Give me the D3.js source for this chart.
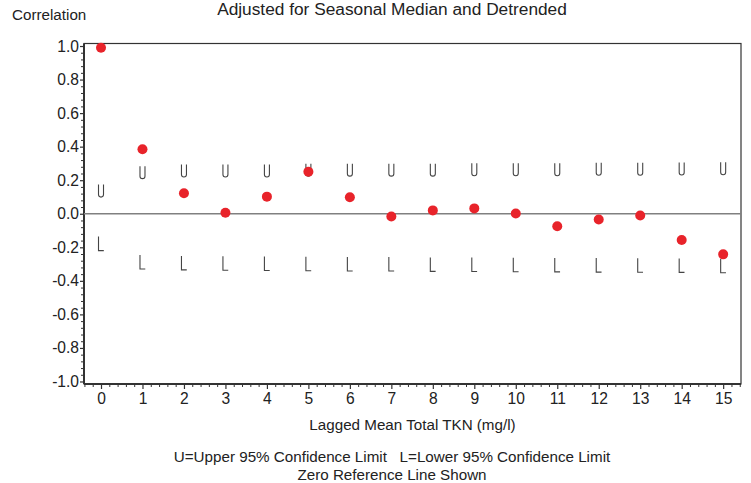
<!DOCTYPE html>
<html lang="en">
<head>
  <meta charset="UTF-8" />
  <title>Correlation by Lag</title>
  <script src="https://d3js.org/d3.v7.min.js"></script>
  <style>
    body { margin: 0; background: #fff; font-family: "Liberation Sans", Arial, sans-serif; }
    svg text { fill: #222; }
    .frame { fill: none; stroke: #333; stroke-width: 1.2px; }
    .zero { stroke: #808080; stroke-width: 1.3px; }
    .lim { fill: none; stroke: #444; stroke-width: 1.1px; }
  </style>
</head>
<body>
<svg id="chart" width="751" height="483"></svg>
<script>
// values
const lags = [0, 1, 2, 3, 4, 5, 6, 7, 8, 9, 10, 11, 12, 13, 14, 15];
const correlation = [0.99, 0.385, 0.122, 0.006, 0.102, 0.25, 0.098, -0.016, 0.02, 0.032, 0.002,
                     -0.074, -0.034, -0.01, -0.156, -0.242];
const upper = [0.135, 0.245, 0.255, 0.255, 0.255, 0.26, 0.26, 0.26, 0.26, 0.262, 0.262,
               0.262, 0.265, 0.265, 0.267, 0.268];
const lower = [-0.178, -0.288, -0.293, -0.295, -0.297, -0.298, -0.3, -0.3, -0.302, -0.303, -0.304,
               -0.305, -0.306, -0.307, -0.308, -0.31];
const yTicks = [1.0, 0.8, 0.6, 0.4, 0.2, 0.0, -0.2, -0.4, -0.6, -0.8, -1.0];

const svg = d3.select("#chart");
const margin = { top: 43.5, right: 10, bottom: 99, left: 84 };
const width = 741 - margin.left, height = 384 - margin.top;
const fs = 15.2, tickFs = 15.6;

const x = d3.scaleLinear().domain([-0.41, 15.43]).range([0, width]);
const y = d3.scaleLinear().domain([-1.015, 1.015]).range([height, 0]);

const g = svg.append("g").attr("transform", `translate(${margin.left},${margin.top})`);

// minor ticks
const xMinor = d3.range(-0.4, 15.41, 0.2).filter(v => Math.abs(v - Math.round(v)) > 1e-6);
const yMinor = d3.range(-1.0, 1.001, 0.04).filter(v => Math.abs(v * 5 - Math.round(v * 5)) > 1e-6);

g.append("g").attr("transform", `translate(0,${height})`)
  .call(d3.axisBottom(x).tickValues(xMinor).tickSize(3).tickFormat(""))
  .call(a => a.select(".domain").remove())
  .selectAll("line").attr("stroke", "#333");
g.append("g")
  .call(d3.axisLeft(y).tickValues(yMinor).tickSize(3).tickFormat(""))
  .call(a => a.select(".domain").remove())
  .selectAll("line").attr("stroke", "#333");

// major axes
const xAxis = g.append("g").attr("transform", `translate(0,${height})`)
  .call(d3.axisBottom(x).tickValues(lags).tickSize(5).tickPadding(4).tickFormat(d3.format("d")));
xAxis.select(".domain").remove();
xAxis.selectAll("line").attr("stroke", "#333").attr("stroke-width", 1.2);
xAxis.selectAll("text").attr("font-size", tickFs).attr("font-family", "Liberation Sans, Arial, sans-serif").attr("fill", "#222");

const yAxis = g.append("g")
  .call(d3.axisLeft(y).tickValues(yTicks).tickSize(4).tickPadding(1)
    .tickFormat(d => d.toFixed(1)));
yAxis.select(".domain").remove();
yAxis.selectAll("line").attr("stroke", "#333").attr("stroke-width", 1.2);
yAxis.selectAll("text").attr("font-size", tickFs).attr("font-family", "Liberation Sans, Arial, sans-serif").attr("fill", "#222");

// frame
g.append("rect").attr("class", "frame").attr("width", width).attr("height", height);
g.append("line").attr("x1", 0).attr("x2", 0).attr("y1", 0).attr("y2", height)
  .attr("stroke", "#333").attr("stroke-width", 2);
g.append("line").attr("x1", 0).attr("x2", width).attr("y1", height).attr("y2", height)
  .attr("stroke", "#333").attr("stroke-width", 2);

// zero reference line
g.append("line").attr("class", "zero")
  .attr("x1", 0).attr("x2", width).attr("y1", y(0)).attr("y2", y(0));

// confidence limit markers
const uPath = "M-2.5,-6.5V3.5A2.5,2.5 0 0 0 2.5,3.5V-6.5";
const lPath = "M-2.5,-7V7H2.8";
g.selectAll(".u").data(lags).join("path")
  .attr("class", "lim")
  .attr("d", uPath)
  .attr("transform", (d, i) => `translate(${x(d)},${y(upper[i])})`);
g.selectAll(".l").data(lags).join("path")
  .attr("class", "lim")
  .attr("d", lPath)
  .attr("transform", (d, i) => `translate(${x(d)},${y(lower[i])})`);

// correlations
g.selectAll("circle").data(lags).join("circle")
  .attr("cx", d => x(d))
  .attr("cy", (d, i) => y(correlation[i]))
  .attr("r", 5)
  .attr("fill", "#e8232a");

// texts
svg.append("text").attr("x", 12).attr("y", 20).attr("font-size", fs).text("Correlation");
svg.append("text").attr("x", 392).attr("y", 15).attr("text-anchor", "middle")
  .attr("font-size", 17.3).text("Adjusted for Seasonal Median and Detrended");
svg.append("text").attr("x", margin.left + width / 2).attr("y", 430).attr("text-anchor", "middle")
  .attr("font-size", fs).text("Lagged Mean Total TKN (mg/l)");
svg.append("text").attr("x", 392).attr("y", 462).attr("text-anchor", "middle")
  .attr("font-size", fs)
  .text("U=Upper 95% Confidence Limit\u00a0\u00a0\u00a0L=Lower 95% Confidence Limit");
svg.append("text").attr("x", 392).attr("y", 480).attr("text-anchor", "middle")
  .attr("font-size", fs).text("Zero Reference Line Shown");
</script>
</body>
</html>
